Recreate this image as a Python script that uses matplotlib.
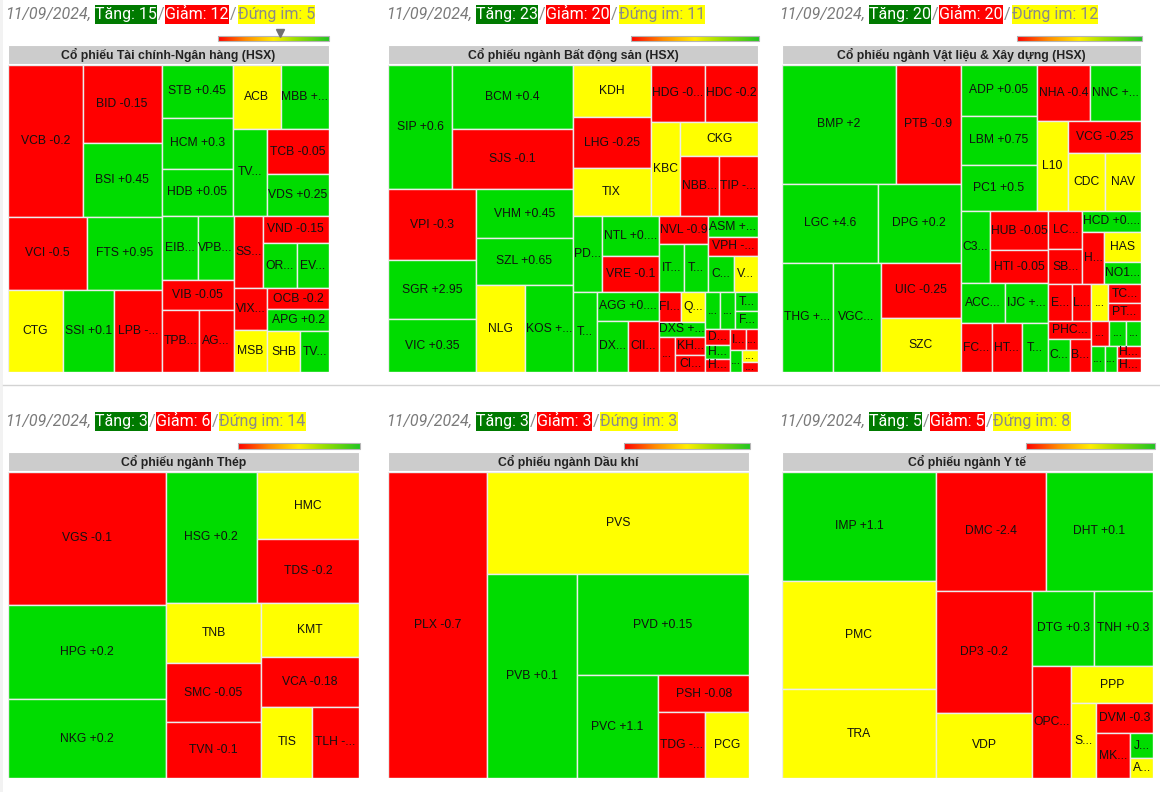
import matplotlib
matplotlib.use("Agg")
import matplotlib.pyplot as plt
from matplotlib.patches import Rectangle
from matplotlib.colors import LinearSegmentedColormap
import numpy as np

# Du lieu
ngay = "11/09/2024"

# Tai chinh - Ngan hang
tc_ma = ["VCB", "BID", "BSI", "VCI", "FTS", "CTG", "SSI", "LPB", "STB", "HCM", "HDB",
         "ACB", "MBB", "TVB", "TCB", "VDS", "EIB", "VPB", "VIB", "TPB", "AGR",
         "SSB", "VND", "ORS", "EVF", "VIX", "MSB", "OCB", "APG", "SHB", "TVS"]
tc_gt = [11200, 6084, 5772, 5616, 5328, 4428, 4182, 3854, 3692, 3621, 3266,
         3024, 3024, 2871, 2790, 2542, 2268, 2268, 2160, 2257, 2135,
         2088, 1782, 1530, 1440, 1386, 1386, 1250, 1364, 1320, 1160]
tc_td = [-0.2, -0.15, 0.45, -0.5, 0.95, 0, 0.1, -0.35, 0.45, 0.3, 0.05,
         0, 0.15, 0.1, -0.05, 0.25, 0.1, 0.05, -0.05, -0.05, -0.1,
         -0.1, -0.15, 0.2, 0.1, -0.2, 0, -0.2, 0.2, 0, 0.3]

# Bat dong san
bds_ma = ["SIP", "BCM", "SJS", "VPI", "SGR", "VIC", "VHM", "SZL", "NLG", "KOS",
          "KDH", "LHG", "TIX", "HDG", "HDC", "KBC", "CKG", "NBB", "TIP",
          "PDR", "NTL", "VRE", "TCH", "AGG", "DXG", "CII",
          "NVL", "ITC", "TDC", "ASM", "VPH", "CCL", "VRC",
          "FIR", "QCG", "DXS", "PTL", "KHG", "CIG",
          "SCR", "LDG", "TDH", "FDC", "DRH", "HAR", "HTN",
          "ITA", "LEC", "DTA", "OGC", "RDP"]
bds_gt = [7850, 7600, 7130, 6120, 5080, 4570, 4610, 4510, 4220, 4050,
          4004, 3927, 3696, 3024, 2968, 2755, 2618, 2318, 2318,
          2204, 2200, 1980, 1920, 1769, 1581, 1530,
          1330, 1220, 1130, 995, 945, 915, 875,
          660, 720, 675, 576, 551, 493,
          540, 540, 430, 390, 400, 325, 325,
          340, 245, 260, 180, 150]
bds_td = [0.6, 0.4, -0.1, -0.3, 2.95, 0.35, 0.45, 0.65, 0, 0.15,
          0, -0.25, 0, -0.15, -0.2, 0, 0, -0.3, -0.45,
          0.3, 0.55, -0.1, 0.4, 0.05, 0.35, -0.2,
          -0.9, 0.4, 0.5, 0.35, -0.45, 0.3, 0,
          -0.2, 0, 0.2, -0.2, -0.3, -0.4,
          0.1, 0.2, 0.5, 0.2, -0.5, 0.3, -0.5,
          -0.2, -0.1, 0.1, 0, -0.2]

# Vat lieu & Xay dung
vl_ma = ["BMP", "PTB", "LGC", "DPG", "THG", "VGC", "UIC", "SZC",
         "ADP", "LBM", "PC1", "NHA", "NNC", "L10", "VCG", "CDC", "NAV",
         "C32", "HUB", "HTI", "ACC", "IJC", "FCN", "HT1", "TCD",
         "LCG", "SBG", "HCD", "HHV", "HAS", "NO1",
         "EVG", "LM8", "PHC", "CTD", "BCE", "DC4", "TCR", "PTC",
         "SC5", "HVH", "DHA", "CRC", "VNE", "HVX", "HAR"]
vl_gt = [13200, 7450, 7400, 6420, 5400, 5080, 4310, 4230,
         3750, 3675, 3375, 2915, 2805, 2728, 2263, 2052, 2052,
         2088, 2223, 1881, 1716, 1677, 1470, 1421, 1274,
         1258, 1190, 1180, 1092, 1110, 814,
         828, 684, 756, 693, 693, 600, 590, 590,
         432, 408, 360, 364, 286, 300, 325]
vl_td = [2, -0.9, 4.6, 0.2, 0.55, 0.3, -0.25, 0,
         0.05, 0.75, 0.5, -0.4, 0.35, 0, -0.25, 0, 0,
         0.2, -0.05, -0.05, 0.25, 0.15, -0.3, -0.2, 0.1,
         -0.1, -0.2, 0.05, -0.2, 0, 0.4,
         -0.3, -0.2, -0.2, 0.2, -0.3, 0, -0.4, -0.5,
         -0.3, 0.2, 0.1, 0.3, 0.2, -0.4, -0.3]

# Thep
thep_ma = ["VGS", "HPG", "NKG", "HSG", "HMC", "TDS", "TNB", "SMC", "TVN",
           "KMT", "VCA", "TIS", "TLH"]
thep_gt = [20724, 14758, 12246, 11790, 6834, 6426, 5700, 5600, 5250,
           5250, 4800, 3600, 3300]
thep_td = [-0.1, 0.2, 0.2, 0.2, 0, -0.2, 0, -0.05, -0.1,
           0, -0.18, 0, -0.25]

# Dau khi
dk_ma = ["PLX", "PVS", "PVB", "PVD", "PVC", "PSH", "TDG", "PCG"]
dk_gt = [29988, 26418, 18156, 17271, 8240, 3240, 3082, 2881]
dk_td = [-0.7, 0, 0.1, 0.15, 1.1, -0.08, -0.15, 0]

# Y te
yt_ma = ["IMP", "PMC", "TRA", "DMC", "DHT", "DP3", "VDP", "DTG", "TNH",
         "OPC", "PPP", "SPM", "DVM", "MKP", "JVC", "AMV"]
yt_gt = [16275, 16275, 13330, 12750, 12400, 11470, 6110, 4514, 4300,
         4180, 3000, 1820, 1680, 1520, 550, 440]
yt_td = [1.1, 0, 0, -2.4, 0.1, -0.2, 0, 0.3, 0.3,
         -0.1, 0, 0, -0.3, -0.5, 0.2, 0]

RONG, CAO = 1160, 792
XANH, DO, VANG = "#00dc00", "#ff0000", "#ffff00"

fig = plt.figure(figsize=(RONG / 100, CAO / 100), dpi=100)
r = fig.canvas.get_renderer()

nen = fig.add_axes([0, 0, 1, 1])
nen.set_xlim(0, RONG)
nen.set_ylim(CAO, 0)
nen.axis("off")

cmap = LinearSegmentedColormap.from_list(
    "thang", [(0, "#ff0000"), (0.25, "#ff8c00"), (0.5, "#ffee00"), (0.7, "#9be000"), (1, "#22c522")])


def mau(v):
    if v > 0:
        return XANH
    if v < 0:
        return DO
    return VANG


def nhan(m, v):
    if v == 0:
        return m
    return f"{m} {v:+g}"


def cat_chu(t, s, rong):
    # cat bot chu cho vua o
    t.set_text(s)
    if t.get_window_extent(r).width <= rong - 1:
        return
    for k in range(len(s) - 1, 0, -1):
        t.set_text(s[:k].rstrip() + "...")
        if t.get_window_extent(r).width <= rong - 1:
            return
    t.set_text("...")


def phan_chia(gt, x0, y0, x1, y1):
    tong = np.concatenate([[0.0], np.cumsum(gt, dtype=float)])
    o = [None] * len(gt)

    def chia(i, j, x0, y0, x1, y1):
        if j - i == 1:
            o[i] = (x0, y0, x1, y1)
            return
        gtri = tong[j] - tong[i]
        k = i + 1
        while k < j - 1 and tong[k + 1] - tong[i] <= gtri / 2:
            k += 1
        trai = (tong[k] - tong[i]) / gtri
        if x1 - x0 > y1 - y0:
            xk = x0 + (x1 - x0) * trai
            chia(i, k, x0, y0, xk, y1)
            chia(k, j, xk, y0, x1, y1)
        else:
            yk = y0 + (y1 - y0) * trai
            chia(i, k, x0, y0, x1, yk)
            chia(k, j, x0, yk, x1, y1)

    chia(0, len(gt), x0, y0, x1, y1)
    return o


def ve_dau(x, y, tang, giam, dung):
    yc = y + 9.5
    t = nen.text(x, yc, ngay + ",", fontsize=11.5, style="italic", color="#7a7a7a",
                 va="center", ha="left", family="Roboto")
    x += t.get_window_extent(r).width + 4
    doan = [(f"Tăng: {tang}", "white", "#007a00"), ("/", "#8a8a8a", None),
            (f"Giảm: {giam}", "white", "#ff0000"), ("/", "#8a8a8a", None),
            (f"Đứng im: {dung}", "#8a8a8a", "#ffff00")]
    for s, c, bg in doan:
        t = nen.text(x, yc, s, fontsize=11.5, color=c, va="center", ha="left",
                     family="Roboto", zorder=3)
        w = t.get_window_extent(r).width
        if bg:
            nen.add_patch(Rectangle((x, y), w, 19, fc=bg, ec="none", zorder=2))
        x += w + 1


def ve_bang(ma, gt, td, ten, dem, khung, dau, thanh):
    x0, y0, x1, y1 = khung
    nen.add_patch(Rectangle((x0, y0 - 20), x1 - x0, 19, fc="#cccccc", ec="white", lw=0.8))
    nen.text((x0 + x1) / 2, y0 - 10.5, ten, ha="center", va="center", fontsize=8.8,
             fontweight="bold", color="#222222", family="Liberation Sans")
    gx0, gy0, gx1, gy1 = thanh
    nen.imshow(np.linspace(0, 1, 256)[None, :], cmap=cmap, extent=(gx0, gx1, gy1, gy0),
               aspect="auto", zorder=2)
    nen.add_patch(Rectangle((gx0, gy0), gx1 - gx0, gy1 - gy0, fill=False, ec="#b5b5b5",
                            lw=0.8, zorder=3))
    ve_dau(dau[0], dau[1], *dem)

    ax = fig.add_axes([x0 / RONG, 1 - y1 / CAO, (x1 - x0) / RONG, (y1 - y0) / CAO])
    w, h = x1 - x0, y1 - y0
    ax.set_xlim(0, w)
    ax.set_ylim(h, 0)
    ax.axis("off")
    for (a, b, c, d), m, v in zip(phan_chia(gt, 0, 0, w, h), ma, td):
        ax.add_patch(Rectangle((a, b), c - a, d - b, fc=mau(v), ec="#ececec", lw=1.0))
        t = ax.text((a + c) / 2, (b + d) / 2, "", ha="center", va="center", fontsize=8.7,
                    family="Liberation Sans", color="#111111")
        cat_chu(t, nhan(m, v), c - a)


ve_bang(tc_ma, tc_gt, tc_td, "Cổ phiếu Tài chính-Ngân hàng (HSX)", (15, 12, 5),
        (8, 65, 329, 372), (5, 5), (218, 36, 329, 41))
ve_bang(bds_ma, bds_gt, bds_td, "Cổ phiếu ngành Bất động sản (HSX)", (23, 20, 11),
        (388, 65, 758, 372), (386, 5), (631, 36, 759, 41))
ve_bang(vl_ma, vl_gt, vl_td, "Cổ phiếu ngành Vật liệu & Xây dựng (HSX)", (20, 20, 12),
        (782, 65, 1141, 372), (779, 5), (1017, 36, 1142, 41))
ve_bang(thep_ma, thep_gt, thep_td, "Cổ phiếu ngành Thép", (3, 6, 14),
        (8, 472, 359, 778), (5, 412), (238, 443, 360, 449))
ve_bang(dk_ma, dk_gt, dk_td, "Cổ phiếu ngành Dầu khí", (3, 3, 3),
        (388, 472, 749, 778), (386, 412), (624, 443, 750, 449))
ve_bang(yt_ma, yt_gt, yt_td, "Cổ phiếu ngành Y tế", (5, 5, 8),
        (782, 472, 1153, 778), (779, 412), (1026, 443, 1155, 449))

# tam giac nho tren thang mau dau tien
nen.plot([280], [32.5], marker="v", ms=6, color="#707070", zorder=4)
# duong ke ngang va vien trai
nen.plot([3, RONG], [385, 385], color="#d3d3d3", lw=1.0)
nen.add_patch(Rectangle((0, 0), 3, CAO, fc="#f2f2f2", ec="none"))
nen.set_xlim(0, RONG)
nen.set_ylim(CAO, 0)

fig.savefig("out.png", dpi=100)
